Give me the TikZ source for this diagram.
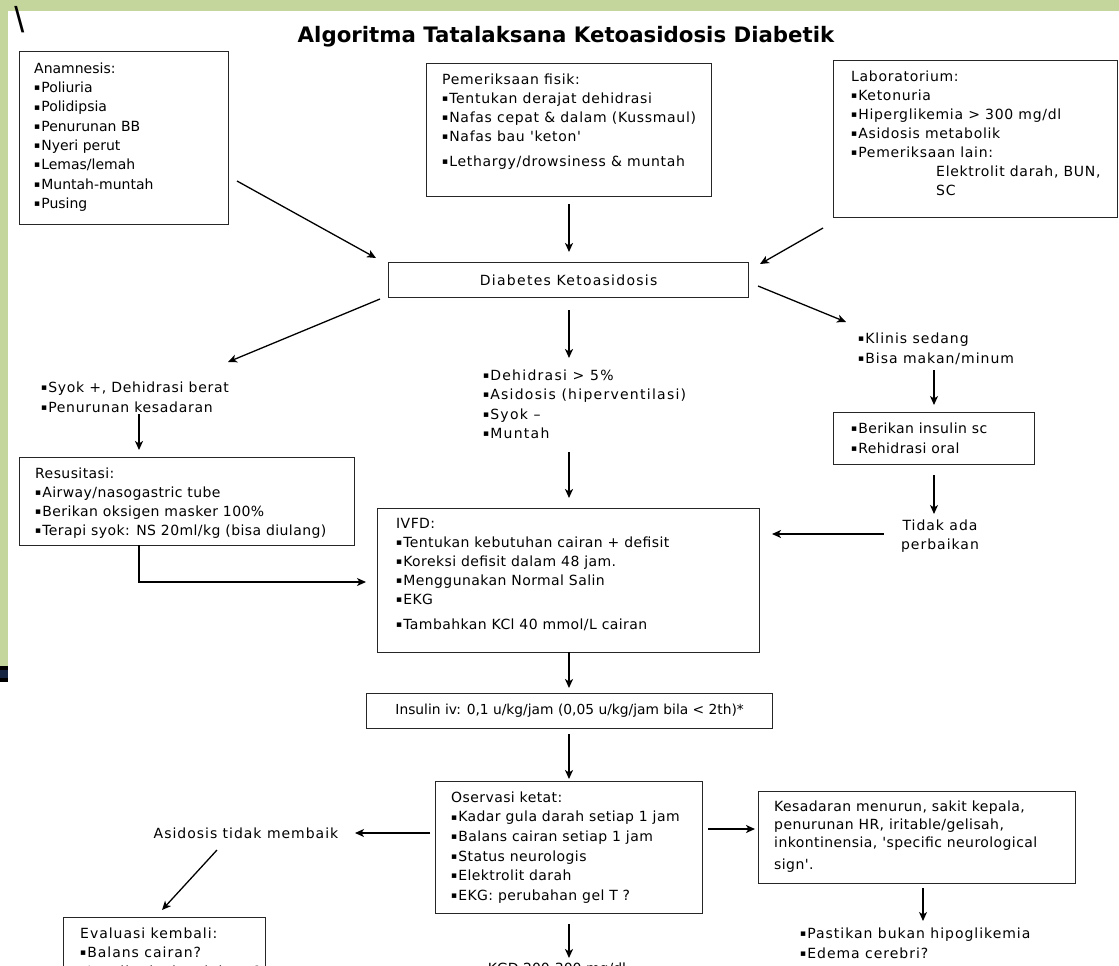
\documentclass[tikz,border=0pt]{standalone}
\usepackage{fontspec}
\setmainfont{DejaVu Sans}
\newfontfamily\bsfont{Liberation Sans}
\newfontfamily\lsn{DejaVu Sans}
\newfontfamily\lsa{DejaVu Sans}[LetterSpace=3]
\newfontfamily\lsb{DejaVu Sans}[LetterSpace=5]
\newfontfamily\lsc{DejaVu Sans}[LetterSpace=7]
\newfontfamily\lsd{DejaVu Sans}[LetterSpace=9]
\usetikzlibrary{arrows.meta}
\definecolor{bandgreen}{RGB}{196,214,155}
\definecolor{bandnavy}{RGB}{22,38,66}
\newcommand\bu{{\fontsize{9}{9}\selectfont\raisebox{1.8pt}{▪}}\hspace{1pt}}
\newcommand\st{\rule{0pt}{11pt}}
\newcommand\ff[2]{#1\fontsize{14}{#2}\selectfont}
\begin{document}
\begin{tikzpicture}[x=1pt,y=-1pt,
  box/.style={draw=black!85, line width=1.3pt, inner sep=0pt, anchor=north west},
  cbox/.style={box, font={\lsn\fontsize{13.8}{19}\selectfont}},
  txt/.style={align=left, inner sep=0pt, anchor=north west},
  ctxt/.style={align=center, inner sep=0pt},
  arr/.style={-{Stealth[length=9pt,width=8pt,inset=2.5pt]}, line width=1.3pt},
  arrt/.style={arr, line width=2.2pt}]
\useasboundingbox (0,0) rectangle (1119,966);
% background and bands
\fill[white] (0,0) rectangle (1119,966);
\fill[bandgreen] (0,0) rectangle (1119,11);
\fill[bandgreen] (0,0) rectangle (8,666);
\fill[black] (0,666) rectangle (8,682);
\fill[bandnavy] (0,670) rectangle (8,678);
\node[font=\bsfont\fontsize{36}{36}\selectfont, inner sep=0pt] (bslash) at (19.5,20) {\textbackslash};
% title
\node[font=\bfseries\fontsize{21.3}{21.3}\selectfont, anchor=base, inner sep=0pt] (title) at (566,43) {Algoritma Tatalaksana Ketoasidosis Diabetik};
% Anamnesis
\node[box, minimum width=209pt, minimum height=173pt] (anam) at (19,51) {};
\node[txt, font={\ff\lsn{19.3}}] (anamT) at (34,62) {\st Anamnesis:\\\bu Poliuria\\\bu Polidipsia\\\bu Penurunan BB\\\bu Nyeri perut\\\bu Lemas/lemah\\\bu Muntah-muntah\\\bu Pusing};
% Pemeriksaan fisik
\node[box, minimum width=285pt, minimum height=133pt] (pem) at (426,63) {};
\node[txt, font={\ff\lsb{19}}] (pemT) at (442,73) {\st Pemeriksaan fisik:\\\bu Tentukan derajat dehidrasi\\\bu Nafas cepat \& dalam (Kussmaul)\\\bu Nafas bau 'keton'\\[6pt]\bu Lethargy/drowsiness \& muntah};
% Laboratorium
\node[box, minimum width=284pt, minimum height=157pt] (lab) at (833,60) {};
\node[txt, font={\ff\lsb{19}}] (labT) at (851,70) {\st Laboratorium:\\\bu Ketonuria\\\bu Hiperglikemia > 300 mg/dl\\\bu Asidosis metabolik\\\bu Pemeriksaan lain:\\\hspace*{85pt}Elektrolit darah, BUN,\\\hspace*{85pt}SC};
% Diabetes Ketoasidosis
\node[box, font={\ff\lsd{19}}, minimum width=360pt, minimum height=35pt] (dk) at (388,262) {Diabetes Ketoasidosis};
% branches
\node[txt, font={\ff\lsb{20}}] (syok) at (41,381) {\st\bu Syok +, Dehidrasi berat\\\bu Penurunan kesadaran};
\node[txt, font={\ff\lsd{19.5}}] (dehid) at (483,369) {\st\bu Dehidrasi > 5\%\\\bu Asidosis (hiperventilasi)\\\bu Syok –\\\bu Muntah};
\node[txt, font={\ff\lsc{20}}] (klinis) at (858,332) {\st\bu Klinis sedang\\\bu Bisa makan/minum};
% Resusitasi
\node[box, minimum width=335pt, minimum height=88pt] (resus) at (19,457) {};
\node[txt, font={\ff\lsa{19}}] (resusT) at (35,467) {\st Resusitasi:\\\bu Airway/nasogastric tube\\\bu Berikan oksigen masker 100\%\\\bu Terapi syok: NS 20ml/kg (bisa diulang)};
% IVFD
\node[box, minimum width=382pt, minimum height=144pt] (ivfd) at (377,508) {};
\node[txt, font={\ff\lsa{19}}] (ivfdT) at (396,517) {\st IVFD:\\\bu Tentukan kebutuhan cairan + defisit\\\bu Koreksi defisit dalam 48 jam.\\\bu Menggunakan Normal Salin\\\bu EKG\\[6pt]\bu Tambahkan KCl 40 mmol/L cairan};
% Berikan insulin sc
\node[box, minimum width=201pt, minimum height=52pt] (sc) at (833,412) {};
\node[txt, font={\ff\lsa{20}}] (scT) at (851,422) {\st\bu Berikan insulin sc\\\bu Rehidrasi oral};
\node[ctxt, font={\ff\lsc{19}}] (tidak) at (940,536) {Tidak ada\\perbaikan};
% Insulin iv
\node[cbox, minimum width=406pt, minimum height=35pt] (insulin) at (366,693) {Insulin iv: 0,1 u/kg/jam (0,05 u/kg/jam bila < 2th)*};
% Observasi
\node[box, minimum width=267pt, minimum height=132pt] (obs) at (435,781) {};
\node[txt, font={\ff\lsa{19.6}}] (obsT) at (451,791) {\st Oservasi ketat:\\\bu Kadar gula darah setiap 1 jam\\\bu Balans cairan setiap 1 jam\\\bu Status neurologis\\\bu Elektrolit darah\\\bu EKG: perubahan gel T ?};
\node[ctxt, font={\ff\lsc{19}}] (asid) at (246,833) {Asidosis tidak membaik};
% Evaluasi
\node[box, minimum width=202pt, minimum height=100pt] (eval) at (63,917) {};
\node[txt, font={\ff\lsc{19}}] (evalT) at (80,927) {\st Evaluasi kembali:\\\bu Balans cairan?\\\bu Insulin dosis adekuat?};
% Kesadaran
\node[box, minimum width=317pt, minimum height=92pt] (kes) at (758,791) {};
\node[txt, font={\ff\lsa{18}}] (kesT) at (774,800) {\st Kesadaran menurun, sakit kepala,\\penurunan HR, iritable/gelisah,\\inkontinensia, 'specific neurological\\[4pt]sign'.};
\node[txt, font={\ff\lsc{20}}] (past) at (800,927) {\st\bu Pastikan bukan hipoglikemia\\\bu Edema cerebri?};
\node[ctxt, font={\ff\lsn{19}}, anchor=base] (kgd) at (557,973) {KGD 200-300 mg/dl};
% connector end points
\coordinate (a1s) at (237,181); \coordinate (a1e) at (376,258);
\coordinate (a2s) at (569,204); \coordinate (a2e) at (569,252);
\coordinate (a3s) at (823,228); \coordinate (a3e) at (760,264);
\coordinate (a4s) at (380,299); \coordinate (a4e) at (228,362);
\coordinate (a5s) at (569,310); \coordinate (a5e) at (569,358);
\coordinate (a6s) at (758,286); \coordinate (a6e) at (846,322);
\coordinate (a7s) at (139,414); \coordinate (a7e) at (139,450);
\coordinate (a8s) at (139,545); \coordinate (a8m) at (139,582); \coordinate (a8e) at (366,582);
\coordinate (a9s) at (569,452); \coordinate (a9e) at (569,498);
\coordinate (a10s) at (934,370); \coordinate (a10e) at (934,405);
\coordinate (a11s) at (934,475); \coordinate (a11e) at (934,514);
\coordinate (a12s) at (884,534); \coordinate (a12e) at (772,534);
\coordinate (a13s) at (569,652); \coordinate (a13e) at (569,688);
\coordinate (a14s) at (569,734); \coordinate (a14e) at (569,779);
\coordinate (a15s) at (430,833); \coordinate (a15e) at (355,833);
\coordinate (a16s) at (217,850); \coordinate (a16e) at (162,910);
\coordinate (a17s) at (708,829); \coordinate (a17e) at (755,829);
\coordinate (a18s) at (923,888); \coordinate (a18e) at (923,921);
\coordinate (a19s) at (569,924); \coordinate (a19e) at (569,958);
% connectors
\draw[arr] (a1s) -- (a1e);
\draw[arrt] (a2s) -- (a2e);
\draw[arr] (a3s) -- (a3e);
\draw[arr] (a4s) -- (a4e);
\draw[arrt] (a5s) -- (a5e);
\draw[arr] (a6s) -- (a6e);
\draw[arrt] (a7s) -- (a7e);
\draw[arr] (a8s) -- (a8m) -- (a8e);
\draw[arrt] (a9s) -- (a9e);
\draw[arr] (a10s) -- (a10e);
\draw[arr] (a11s) -- (a11e);
\draw[arrt] (a12s) -- (a12e);
\draw[arrt] (a13s) -- (a13e);
\draw[arrt] (a14s) -- (a14e);
\draw[arr] (a15s) -- (a15e);
\draw[arr] (a16s) -- (a16e);
\draw[arrt] (a17s) -- (a17e);
\draw[arr] (a18s) -- (a18e);
\draw[arrt] (a19s) -- (a19e);
\end{tikzpicture}
\end{document}
